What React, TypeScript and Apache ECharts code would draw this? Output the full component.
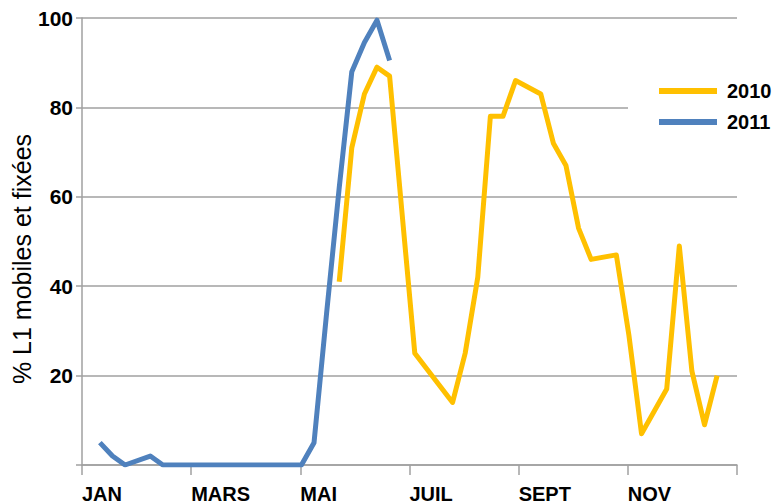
import React, { useEffect, useRef } from "react";
import * as echarts from "echarts";

// Month tick labels (one every two months)
const monthLabels = ["JAN", "MARS", "MAI", "JUIL", "SEPT", "NOV", ""];

// 2010 series: week of year -> % L1
const weeks2010 = [20, 21, 22, 23, 24, 26, 29, 30, 31, 32, 33, 34, 36, 37, 38, 39, 40, 42, 43, 44, 46, 47, 48, 49, 50];
const values2010 = [41, 71, 83, 89, 87, 25, 14, 25, 42, 78, 78, 86, 83, 72, 67, 53, 46, 47, 29, 7, 17, 49, 21, 9, 20];

// 2011 series
const weeks2011 = [1, 2, 3, 5, 6, 17, 18, 19, 20, 21, 22, 23, 24];
const values2011 = [5, 2, 0, 2, 0, 0, 5, 34, 62, 88, 94.5, 99.5, 90.5];

const seriesNames = ["2010", "2011"];
const seriesColors = ["#FFC000", "#4F81BD"];

const WEEK_OFFSET = 0.42;
const toMonth = (w: number) => ((w + WEEK_OFFSET) * 12) / 52;

export default function App() {
  const ref = useRef<HTMLDivElement>(null);
  useEffect(() => {
    if (!ref.current) return;
    const chart = echarts.init(ref.current, undefined, { renderer: "svg" });
    const font = "'Liberation Sans', Arial, sans-serif";
    const gray = "#A0A0A0";
    chart.setOption({
      animation: false,
      backgroundColor: "#ffffff",
      grid: { left: 82, right: 47, top: 18, bottom: 38.5, containLabel: false },
      xAxis: {
        type: "value",
        min: 0,
        max: 12,
        interval: 2,
        splitLine: { show: false },
        axisLine: { show: true, lineStyle: { color: gray, width: 1.5 } },
        axisTick: { show: true, length: 10, lineStyle: { color: gray, width: 1.5 } },
        axisLabel: {
          formatter: (v: number) => monthLabels[Math.round(v / 2)] ?? "",
          align: "left",
          margin: 19,
          fontSize: 20,
          fontWeight: "bold",
          fontFamily: font,
          color: "#000",
        },
      },
      yAxis: {
        type: "value",
        min: 0,
        max: 100,
        interval: 20,
        axisLine: { show: true, lineStyle: { color: gray, width: 1.5 } },
        axisTick: { show: true, length: 6, lineStyle: { color: gray, width: 1.5 } },
        splitLine: { show: true, lineStyle: { color: gray, width: 1.5 } },
        axisLabel: {
          formatter: (v: number) => (v === 0 ? "" : String(v)),
          margin: 9,
          fontSize: 21,
          fontWeight: "bold",
          fontFamily: font,
          color: "#000",
        },
      },
      legend: {
        data: seriesNames,
        orient: "vertical",
        left: 628,
        top: 74,
        padding: [7, 10, 7, 31],
        backgroundColor: "#ffffff",
        icon: "rect",
        itemWidth: 58,
        itemHeight: 6,
        itemGap: 11,
        textStyle: {
          fontSize: 20,
          fontWeight: "bold",
          fontFamily: font,
          color: "#000",
          padding: [0, 0, 0, 5],
        },
      },
      graphic: [
        {
          type: "text",
          x: 22,
          y: 259,
          rotation: Math.PI / 2,
          style: {
            text: "% L1 mobiles et fixées",
            fontSize: 25,
            fontFamily: font,
            fill: "#000",
            align: "center",
            verticalAlign: "middle",
          },
        },
      ],
      series: [
        {
          name: seriesNames[0],
          type: "line",
          showSymbol: false,
          color: seriesColors[0],
          lineStyle: { width: 5, color: seriesColors[0], join: "round" },
          data: weeks2010.map((w, i) => [toMonth(w), values2010[i]]),
          z: 2,
        },
        {
          name: seriesNames[1],
          type: "line",
          showSymbol: false,
          color: seriesColors[1],
          lineStyle: { width: 5, color: seriesColors[1], join: "round" },
          data: weeks2011.map((w, i) => [toMonth(w), values2011[i]]),
          z: 3,
        },
      ],
    });
    return () => chart.dispose();
  }, []);
  return <div ref={ref} style={{ width: 784, height: 504, position: "absolute", left: 0, top: 0 }} />;
}
